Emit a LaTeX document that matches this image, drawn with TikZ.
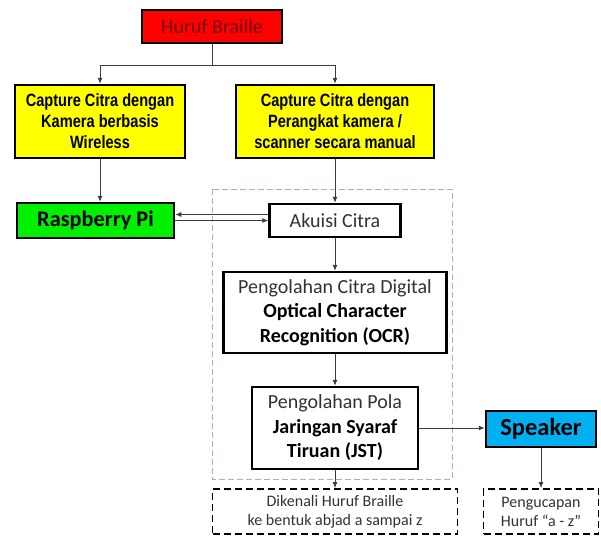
\documentclass[tikz,border=0pt]{standalone}
\usepackage{fontspec}
\setmainfont{Carlito}
\newfontfamily\narrowfont[FakeStretch=0.82]{Liberation Sans}
\usetikzlibrary{positioning,arrows.meta}
\definecolor{boxred}{RGB}{255,0,0}
\definecolor{redtext}{RGB}{110,5,5}
\definecolor{capyellow}{RGB}{255,255,0}
\definecolor{pigreen}{RGB}{0,240,0}
\definecolor{spkblue}{RGB}{0,176,240}
\definecolor{textgrey}{RGB}{50,50,50}
\definecolor{linegrey}{RGB}{60,60,60}
\definecolor{framecol}{RGB}{150,185,195}

\begin{document}
\begin{tikzpicture}[x=1pt, y=1pt,
  box/.style = {draw, line width=2.5pt, align=center, inner sep=0pt},
  capbox/.style = {box, fill=capyellow, font=\narrowfont\bfseries\fontsize{17.8}{21}\selectfont},
  plain/.style = {box, fill=white, font=\fontsize{20}{24.5}\selectfont},
  note/.style = {draw, dash pattern=on 7pt off 4pt, line width=1.8pt, align=center, inner sep=0pt, text=textgrey, font=\fontsize{16}{19}\selectfont},
  arr/.style = {-{Latex[length=6pt,width=5pt]}, line width=0.9pt, draw=linegrey},
  group/.style = {draw=framecol, dash pattern=on 6pt off 3pt, line width=1pt}]
\useasboundingbox (0,0) rectangle (601,-535);
\node[box, line width=1.2pt, fill=boxred, text=redtext, font=\fontsize{20}{23}\selectfont, minimum width=140pt, minimum height=33pt] (huruf) at (212,-26.5) {Huruf Braille};
\node[capbox, minimum width=198pt, minimum height=73pt] (capB) at (335,-121.5) {Capture Citra dengan\\Perangkat kamera /\\scanner secara manual};
\node[capbox, minimum width=170pt, minimum height=73pt] (capA) [node distance=235pt, left of=capB] {Capture Citra dengan\\Kamera berbasis\\Wireless};
\node[box, fill=pigreen, font=\bfseries\fontsize{22.3}{25}\selectfont, minimum width=157pt, minimum height=35pt] (rasp) [node distance=99pt, below of=capA, xshift=-4.5pt] {Raspberry Pi};
\node[plain, text=textgrey, minimum width=131pt, minimum height=33pt] (akuisi) [node distance=99pt, below of=capB] {Akuisi Citra};
\node[plain, minimum width=223pt, minimum height=81pt] (ocr) [node distance=92pt, below of=akuisi] {{\color{textgrey}Pengolahan Citra Digital}\\\textbf{Optical Character}\\\textbf{Recognition (OCR)}};
\node[plain, minimum width=166pt, minimum height=82pt] (jst) [node distance=115.5pt, below of=ocr] {{\color{textgrey}Pengolahan Pola}\\\textbf{Jaringan Syaraf}\\\textbf{Tiruan (JST)}};
\node[box, fill=spkblue, font=\bfseries\fontsize{24.5}{26}\selectfont, minimum width=110pt, minimum height=36pt] (speaker) [node distance=206pt, right of=jst, yshift=-1pt] {Speaker};
\node[note, minimum width=245pt, minimum height=45pt] (dikenali) [node distance=83.5pt, below of=jst] {Dikenali Huruf Braille\\ke bentuk abjad a sampai z};
\node[note, minimum width=115pt, minimum height=45pt] (ucap) [node distance=82.5pt, below of=speaker] {Pengucapan\\Huruf “a - z”};
% kotak proses
\draw[group] (212,-189) rectangle (452,-479);
\draw[arr] (huruf.south) -- ++(0,-21.5) -| (capA.north);
\draw[arr] (huruf.south) -- ++(0,-21.5) -| (capB.north);
\draw[arr] (capA.south) -- (capA.south |- rasp.north);
\draw[arr] (capB.south) -- (akuisi.north);
\draw[arr] ([yshift=6pt]akuisi.west) -- ([yshift=6pt]rasp.east);
\draw[arr] (rasp.east) -- (akuisi.west);
\draw[arr] (akuisi) -- (ocr);
\draw[arr] (ocr) -- (jst);
\draw[arr] (jst.east) -- (jst.east -| speaker.west);
\draw[arr] (jst) -- (dikenali);
\draw[arr] (speaker) -- (ucap);
\end{tikzpicture}
\end{document}
